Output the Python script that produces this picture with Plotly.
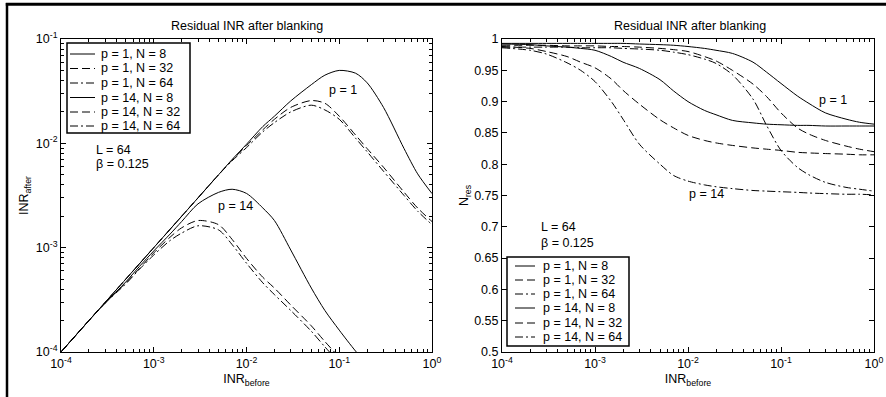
import plotly.graph_objects as go

W, H = 886, 397
FONT = "Liberation Sans, Arial, sans-serif"


def fx(p):
    return p / W


def fy(p):
    return 1 - p / H


# ---------------- data ----------------
inr_before = [1e-4, 2e-4, 3e-4, 5e-4, 7e-4, 1e-3, 1.5e-3, 2e-3, 3e-3, 5e-3, 7e-3,
              1e-2, 1.5e-2, 2e-2, 3e-2, 5e-2, 7e-2, 0.1, 0.15, 0.2, 0.3, 0.5, 0.7, 1.0]

# left panel: INR_after
after_p1_n8 = [1e-4, 2e-4, 3e-4, 5e-4, 7e-4, 1e-3, 1.5e-3, 2e-3, 3e-3, 5e-3, 7e-3,
               9.8e-3, 1.45e-2, 1.82e-2, 2.55e-2, 3.65e-2, 4.5e-2, 5.0e-2, 4.7e-2, 3.8e-2,
               2.21e-2, 8.9e-3, 5.1e-3, 3.3e-3]
after_p1_n32 = [1e-4, 2e-4, 3e-4, 5e-4, 7e-4, 1e-3, 1.5e-3, 2e-3, 3e-3, 5e-3, 6.9e-3,
                9.5e-3, 1.35e-2, 1.7e-2, 2.21e-2, 2.57e-2, 2.42e-2, 1.82e-2, 1.2e-2, 8.9e-3,
                5.9e-3, 3.4e-3, 2.4e-3, 1.78e-3]
after_p1_n64 = [1e-4, 2e-4, 3e-4, 5e-4, 7e-4, 1e-3, 1.5e-3, 2e-3, 3e-3, 5e-3, 6.8e-3,
                9.1e-3, 1.29e-2, 1.58e-2, 2.0e-2, 2.32e-2, 2.09e-2, 1.7e-2, 1.12e-2, 8.3e-3,
                5.4e-3, 3.16e-3, 2.24e-3, 1.66e-3]
after_p14_n8 = [1e-4, 2e-4, 2.95e-4, 4.7e-4, 6.6e-4, 9.3e-4, 1.35e-3, 1.78e-3, 2.63e-3,
                3.39e-3, 3.63e-3, 3.31e-3, 2.4e-3, 1.82e-3, 9.5e-4, 4.1e-4, 2.5e-4, 1.62e-4,
                1.02e-4, 7.6e-5, None, None, None, None]
after_p14_n32 = [1e-4, 2e-4, 2.95e-4, 4.6e-4, 6.3e-4, 8.9e-4, 1.26e-3, 1.55e-3, 1.82e-3,
                 1.66e-3, 1.2e-3, 7.9e-4, 5.2e-4, 4.1e-4, 2.82e-4, 1.78e-4, 1.26e-4, 8.9e-5,
                 None, None, None, None, None, None]
after_p14_n64 = [1e-4, 2e-4, 2.95e-4, 4.5e-4, 6.2e-4, 8.5e-4, 1.17e-3, 1.38e-3, 1.62e-3,
                 1.48e-3, 1.07e-3, 7.1e-4, 4.6e-4, 3.55e-4, 2.5e-4, 1.58e-4, 1.12e-4, 7.9e-5,
                 None, None, None, None, None, None]

# right panel: N_res
nres_p1_n8 = [0.993, 0.993, 0.993, 0.993, 0.993, 0.993, 0.993, 0.993, 0.992, 0.991, 0.990,
              0.988, 0.985, 0.982, 0.977, 0.963, 0.947, 0.929, 0.909, 0.897, 0.882, 0.872,
              0.867, 0.864]
nres_p1_n32 = [0.990, 0.990, 0.990, 0.989, 0.989, 0.989, 0.988, 0.988, 0.987, 0.985, 0.983,
               0.980, 0.972, 0.965, 0.950, 0.928, 0.908, 0.882, 0.858, 0.848, 0.838, 0.829,
               0.824, 0.820]
nres_p1_n64 = [0.987, 0.987, 0.987, 0.987, 0.986, 0.986, 0.986, 0.985, 0.984, 0.982, 0.979,
               0.975, 0.968, 0.961, 0.943, 0.904, 0.862, 0.822, 0.795, 0.783, 0.771, 0.763,
               0.760, 0.757]
nres_p14_n8 = [0.992, 0.991, 0.989, 0.987, 0.985, 0.982, 0.972, 0.963, 0.953, 0.935, 0.917,
               0.900, 0.886, 0.879, 0.870, 0.866, 0.864, 0.863, 0.862, 0.862, 0.861, 0.861,
               0.861, 0.861]
nres_p14_n32 = [0.988, 0.985, 0.980, 0.972, 0.963, 0.954, 0.936, 0.918, 0.896, 0.871, 0.858,
                0.846, 0.838, 0.834, 0.830, 0.826, 0.824, 0.822, 0.819, 0.818, 0.817, 0.816,
                0.815, 0.815]
nres_p14_n64 = [0.986, 0.982, 0.976, 0.962, 0.950, 0.932, 0.900, 0.872, 0.832, 0.800, 0.782,
                0.773, 0.767, 0.764, 0.761, 0.758, 0.757, 0.756, 0.755, 0.754, 0.753, 0.752,
                0.752, 0.751]

series_labels = ["p = 1, N = 8", "p = 1, N = 32", "p = 1, N = 64",
                 "p = 14, N = 8", "p = 14, N = 32", "p = 14, N = 64"]

log_tick_vals = [1e-4, 1e-3, 1e-2, 1e-1, 1.0]
log_tick_text = ["10<sup>-4</sup>", "10<sup>-3</sup>", "10<sup>-2</sup>",
                 "10<sup>-1</sup>", "10<sup>0</sup>"]
left_ytick_vals = [1e-4, 1e-3, 1e-2, 1e-1]
left_ytick_text = ["10<sup>-4</sup>", "10<sup>-3</sup>", "10<sup>-2</sup>", "10<sup>-1</sup>"]
right_ytick_vals = [0.5, 0.55, 0.6, 0.65, 0.7, 0.75, 0.8, 0.85, 0.9, 0.95, 1.0]
right_ytick_text = ["0.5", "0.55", "0.6", "0.65", "0.7", "0.75", "0.8", "0.85", "0.9",
                    "0.95", "1"]

title_text = "Residual INR after blanking"

# ---------------- styles ----------------
DASHES = ["solid", "8px,4px", "8px,3px,2px,3px"] * 2
FS = 12.5

fig = go.Figure()

left_series = [after_p1_n8, after_p1_n32, after_p1_n64,
               after_p14_n8, after_p14_n32, after_p14_n64]
right_series = [nres_p1_n8, nres_p1_n32, nres_p1_n64,
                nres_p14_n8, nres_p14_n32, nres_p14_n64]

for name, ys, dash in zip(series_labels, left_series, DASHES):
    fig.add_trace(go.Scatter(x=inr_before, y=ys, mode="lines", name=name,
                             line=dict(color="black", width=1, dash=dash,
                                       shape="spline", smoothing=0.8),
                             xaxis="x", yaxis="y", showlegend=False))
for name, ys, dash in zip(series_labels, right_series, DASHES):
    fig.add_trace(go.Scatter(x=inr_before, y=ys, mode="lines", name=name,
                             line=dict(color="black", width=1, dash=dash,
                                       shape="spline", smoothing=0.8),
                             xaxis="x2", yaxis="y2", showlegend=False))

minor_log = [k * 10.0 ** e for e in range(-4, 0) for k in range(2, 10)]

common = dict(showline=True, linecolor="black", linewidth=1, mirror="allticks",
              ticks="inside", ticklen=5, tickcolor="black", tickwidth=1,
              showgrid=False, zeroline=False, automargin=False,
              tickfont=dict(family=FONT, size=FS, color="black"))
minor_ticks = dict(ticks="inside", ticklen=3, tickcolor="black", tickmode="array",
                   tickvals=minor_log, showgrid=False)

fig.update_layout(
    width=W, height=H,
    margin=dict(l=0, r=0, t=0, b=0),
    paper_bgcolor="white", plot_bgcolor="white",
    font=dict(family=FONT, size=FS, color="black"),
    xaxis=dict(domain=[fx(61), fx(432)], type="log", range=[-4, 0], anchor="y",
               tickmode="array", tickvals=log_tick_vals, ticktext=log_tick_text,
               minor=minor_ticks,
               title=dict(text="INR<sub>before</sub>", standoff=4,
                          font=dict(family=FONT, size=FS)),
               **common),
    yaxis=dict(domain=[fy(352), fy(39)], type="log", range=[-4, -1], anchor="x",
               tickmode="array", tickvals=left_ytick_vals, ticktext=left_ytick_text,
               minor=minor_ticks,
               title=dict(text="INR<sub>after</sub>", standoff=4,
                          font=dict(family=FONT, size=FS)),
               **common),
    xaxis2=dict(domain=[fx(502), fx(874)], type="log", range=[-4, 0], anchor="y2",
                tickmode="array", tickvals=log_tick_vals, ticktext=log_tick_text,
                minor=minor_ticks,
                title=dict(text="INR<sub>before</sub>", standoff=4,
                           font=dict(family=FONT, size=FS)),
                **common),
    yaxis2=dict(domain=[fy(352), fy(39)], range=[0.5, 1.0], anchor="x2",
                tickmode="array", tickvals=right_ytick_vals, ticktext=right_ytick_text,
                title=dict(text="N<sub>res</sub>", standoff=2,
                           font=dict(family=FONT, size=FS)),
                **common),
)

shapes = []
annotations = []

# outer frame lines
shapes.append(dict(type="line", xref="paper", yref="paper", x0=fx(7), x1=fx(7),
                   y0=0, y1=fy(3), line=dict(color="black", width=2.5)))
shapes.append(dict(type="line", xref="paper", yref="paper", x0=fx(5.8), x1=1,
                   y0=fy(4.2), y1=fy(4.2), line=dict(color="black", width=3)))

# titles
for cx in (247, 690):
    annotations.append(dict(text=title_text, xref="paper", yref="paper", x=fx(cx),
                            y=fy(26), xanchor="center", yanchor="middle",
                            showarrow=False, font=dict(family=FONT, size=FS)))


def text_at(t, x, y):
    annotations.append(dict(text=t, xref="paper", yref="paper", x=fx(x), y=fy(y),
                            xanchor="left", yanchor="middle", showarrow=False,
                            font=dict(family=FONT, size=FS)))


# in-plot labels
text_at("p = 1", 327, 90)
text_at("p = 14", 216, 206)
text_at("L = 64", 94, 150)
text_at("β = 0.125", 94, 164)
text_at("p = 1", 817, 100)
text_at("p = 14", 687, 194)
text_at("L = 64", 539, 227)
text_at("β = 0.125", 539, 243)


def legend_box(x0, y0, x1, y1, lx0, lx1, tx, rows):
    shapes.append(dict(type="rect", xref="paper", yref="paper", x0=fx(x0), x1=fx(x1),
                       y0=fy(y1), y1=fy(y0), line=dict(color="black", width=1.5),
                       fillcolor="white", layer="above"))
    for label, dash, ry in zip(series_labels, DASHES, rows):
        shapes.append(dict(type="line", xref="paper", yref="paper", x0=fx(lx0),
                           x1=fx(lx1), y0=fy(ry), y1=fy(ry),
                           line=dict(color="black", width=1, dash=dash)))
        text_at(label, tx, ry)


legend_box(67, 43, 190, 133, 70, 95, 99, [54, 68.5, 83, 97.5, 112, 126])
legend_box(507, 257, 629, 346, 515, 535, 541, [266, 280, 294, 308, 323, 337])

fig.update_layout(shapes=shapes, annotations=annotations)

fig.write_html("out.html")
